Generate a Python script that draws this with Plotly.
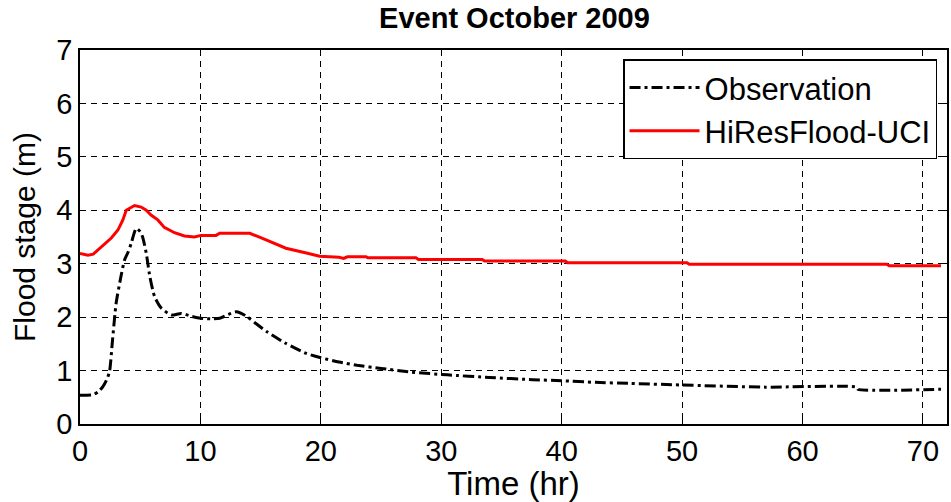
import plotly.graph_objects as go

# Observed stage (m) vs time (hr)
obs_t = [0, 0.5, 1.1, 1.5, 1.9, 2.2, 2.45, 2.7, 3.0, 3.4, 3.7, 4.0, 4.25, 4.67, 5.0,
         5.2, 5.5, 5.8, 6.2, 6.75, 7.6, 8.4, 9.2, 10.0, 11.0, 11.6, 12.3, 13.0, 13.8,
         14.5, 15.5, 17.0, 18.8, 20.0, 21.5, 23.0, 25.0, 27.5, 30.5, 34.0, 37.6, 40.0,
         42.8, 45.6, 50.0, 56.9, 64.5, 64.6, 71.5]
obs_v = [0.54, 0.54, 0.55, 0.60, 0.70, 0.82, 0.98, 1.57, 2.26, 2.76, 3.07, 3.22, 3.38,
         3.66, 3.60, 3.50, 3.20, 2.76, 2.38, 2.17, 2.04, 2.07, 2.02, 1.98, 1.97, 1.98,
         2.05, 2.10, 2.02, 1.90, 1.73, 1.52, 1.32, 1.24, 1.16, 1.10, 1.04, 0.97, 0.92,
         0.87, 0.83, 0.81, 0.78, 0.76, 0.73, 0.69, 0.69, 0.65, 0.65]

# Modelled stage (m) vs time (hr)
sim_t = [0, 0.66, 1.1, 1.8, 2.6, 3.15, 3.56, 3.84, 4.2, 4.53, 5.08, 5.5, 5.9, 6.46, 7.0,
         7.85, 8.67, 9.5, 10.05, 11.3, 11.6, 14.1, 15.5, 17.1, 18.8, 19.9, 21.5, 21.9,
         22.2, 23.75, 23.9, 27.9, 28.1, 33.4, 33.6, 40.3, 40.5, 50.4, 50.6, 67.0, 67.2,
         71.5]
sim_v = [3.19, 3.16, 3.18, 3.32, 3.48, 3.63, 3.82, 4.00, 4.05, 4.09, 4.06, 4.00, 3.91,
         3.82, 3.68, 3.58, 3.52, 3.50, 3.53, 3.53, 3.57, 3.57, 3.44, 3.29, 3.20, 3.14,
         3.12, 3.10, 3.13, 3.13, 3.11, 3.11, 3.08, 3.08, 3.05, 3.05, 3.02, 3.02, 2.99,
         2.99, 2.96, 2.96]

x_ticks = [0, 10, 20, 30, 40, 50, 60, 70]
y_ticks = [0, 1, 2, 3, 4, 5, 6, 7]

FONT = "Liberation Sans, Arial, sans-serif"

fig = go.Figure()
fig.add_trace(go.Scatter(
    x=obs_t, y=obs_v, mode="lines", name="Observation",
    line=dict(color="black", width=3, dash="11px,4px,3px,4px", shape="spline", smoothing=0.6),
))
fig.add_trace(go.Scatter(
    x=sim_t, y=sim_v, mode="lines", name="HiResFlood-UCI",
    line=dict(color="#ff0000", width=3),
))

axis_common = dict(
    showline=True, linecolor="black", linewidth=1.5, mirror="ticks",
    ticks="inside", ticklen=6, tickcolor="black",
    showgrid=True, gridcolor="black", gridwidth=1, griddash="6px,5px",
    zeroline=False,
    tickfont=dict(family=FONT, size=29, color="black"),
)

fig.update_xaxes(
    range=[0, 72], tickvals=x_ticks,
    title=dict(text="Time (hr)", font=dict(family=FONT, size=33, color="black"), standoff=3),
    **axis_common,
)
fig.update_yaxes(
    range=[0, 7], tickvals=y_ticks,
    title=dict(text="Flood stage (m)", font=dict(family=FONT, size=30, color="black"), standoff=12),
    **axis_common,
)

fig.update_layout(
    width=951, height=502,
    margin=dict(l=80, r=2, t=50, b=78),
    paper_bgcolor="white", plot_bgcolor="white",
    title=dict(text="<b>Event October 2009</b>", x=0.541, xanchor="center",
               y=0.964, yanchor="middle",
               font=dict(family=FONT, size=29, color="black")),
    legend=dict(
        x=0.9885, y=0.975, xanchor="right", yanchor="top",
        bgcolor="white", bordercolor="black", borderwidth=1.5,
        font=dict(family=FONT, size=31, color="black"),
        itemwidth=70, tracegroupgap=0,
    ),
    showlegend=True,
)

fig.write_html("out.html")
